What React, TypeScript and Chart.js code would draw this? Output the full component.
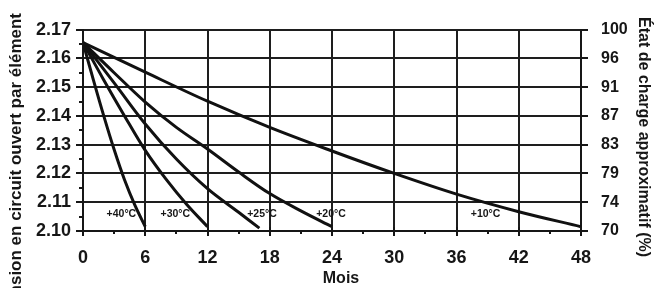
import React, { useEffect, useRef } from "react";
import { Chart, registerables } from "chart.js";

Chart.register(...registerables);

// Months (x) and open-circuit voltage per cell (y) for each storage temperature
const MONTHS_40 = [0, 1, 2, 3, 4, 5, 6];
const VOLTS_40 = [2.1655, 2.1525, 2.14, 2.1283, 2.1178, 2.109, 2.1015];

const MONTHS_30 = [0, 2, 4, 6, 8, 10, 12];
const VOLTS_30 = [2.1655, 2.1525, 2.14, 2.128, 2.118, 2.1092, 2.1015];

const MONTHS_25 = [0, 3, 6, 9, 12, 15, 17];
const VOLTS_25 = [2.1655, 2.1515, 2.1372, 2.125, 2.1147, 2.1065, 2.101];

const MONTHS_20 = [0, 3, 6, 9, 12, 15, 18, 21, 24];
const VOLTS_20 = [2.1655, 2.155, 2.1448, 2.136, 2.1285, 2.1205, 2.113, 2.107, 2.1015];

const MONTHS_10 = [0, 6, 12, 18, 24, 30, 36, 42, 48];
const VOLTS_10 = [2.1655, 2.1552, 2.1451, 2.136, 2.1278, 2.12, 2.1128, 2.1067, 2.1015];

const SERIES_LABELS = ["+40°C", "+30°C", "+25°C", "+20°C", "+10°C"];
const SERIES_LABEL_MONTHS = [3.7, 8.9, 17.25, 23.9, 38.8];
const SERIES_LABEL_VOLT = 2.1057;

const SOC_TICKS = ["70", "74", "79", "83", "87", "91", "96", "100"];

const X_TITLE = "Mois";
const Y_TITLE = "Tension en circuit ouvert par élément";
const Y2_TITLE = "État de charge approximatif (%)";

const FONT = "'Liberation Sans', Arial, Helvetica, sans-serif";
const INK = "#161616";

const toPoints = (xs: number[], ys: number[]) => xs.map((x, i) => ({ x, y: ys[i] }));

const decorPlugin = {
  id: "decor",
  afterDraw(chart: any) {
    const ctx = chart.ctx as CanvasRenderingContext2D;
    const xs = chart.scales.x;
    const ys = chart.scales.y;
    const area = chart.chartArea;
    ctx.save();
    ctx.strokeStyle = INK;
    ctx.lineWidth = 2;
    ctx.beginPath();
    // x ticks: major every 6, minor every 3
    for (let m = 0; m <= 48; m += 3) {
      const px = Math.round(xs.getPixelForValue(m));
      const major = m % 6 === 0;
      ctx.moveTo(px, area.bottom - (major ? 4 : 1));
      ctx.lineTo(px, area.bottom + (major ? 5 : 3));
    }
    // left y ticks: major every 0.01, minor every 0.005
    for (let k = 0; k <= 14; k++) {
      const v = 2.1 + k * 0.005;
      const py = Math.round(ys.getPixelForValue(v));
      const major = k % 2 === 0;
      ctx.moveTo(area.left - (major ? 7 : 4), py);
      ctx.lineTo(area.left, py);
      if (major) {
        ctx.moveTo(area.right, py);
        ctx.lineTo(area.right + 7, py);
      }
    }
    ctx.stroke();

    ctx.fillStyle = INK;
    // curve labels
    ctx.font = `bold 10.5px ${FONT}`;
    ctx.textAlign = "center";
    ctx.textBaseline = "middle";
    SERIES_LABELS.forEach((t, i) => {
      ctx.fillText(t, xs.getPixelForValue(SERIES_LABEL_MONTHS[i]), ys.getPixelForValue(SERIES_LABEL_VOLT));
    });

    // x title
    ctx.font = `bold 16px ${FONT}`;
    ctx.textAlign = "center";
    ctx.textBaseline = "alphabetic";
    ctx.fillText(X_TITLE, 341, 283);

    // left title (rotated, clipped at bottom like reference)
    ctx.save();
    ctx.font = `bold 17px ${FONT}`;
    ctx.translate(20.5, 13);
    ctx.rotate(-Math.PI / 2);
    ctx.textAlign = "right";
    ctx.textBaseline = "alphabetic";
    ctx.fillText(Y_TITLE, 0, 0);
    ctx.restore();

    // right title
    ctx.save();
    ctx.font = `bold 16px ${FONT}`;
    ctx.translate(638.5, 17);
    ctx.rotate(Math.PI / 2);
    ctx.textAlign = "left";
    ctx.textBaseline = "alphabetic";
    ctx.fillText(Y2_TITLE, 0, 0);
    ctx.restore();

    ctx.restore();
  },
};

export default function App() {
  const ref = useRef<HTMLCanvasElement | null>(null);

  useEffect(() => {
    if (!ref.current) return;
    const line = (xs: number[], ys: number[], label: string) => ({
      label,
      data: toPoints(xs, ys),
      borderColor: "#111",
      borderWidth: 3,
      pointRadius: 0,
      fill: false,
      tension: 0.35,
    });
    const chart = new Chart(ref.current, {
      type: "line",
      data: {
        datasets: [
          line(MONTHS_40, VOLTS_40, SERIES_LABELS[0]),
          line(MONTHS_30, VOLTS_30, SERIES_LABELS[1]),
          line(MONTHS_25, VOLTS_25, SERIES_LABELS[2]),
          line(MONTHS_20, VOLTS_20, SERIES_LABELS[3]),
          line(MONTHS_10, VOLTS_10, SERIES_LABELS[4]),
        ],
      },
      options: {
        animation: false,
        responsive: true,
        maintainAspectRatio: false,
        layout: { padding: { top: 25, left: 0, right: 0, bottom: 0 } },
        plugins: { legend: { display: false }, tooltip: { enabled: false } },
        scales: {
          x: {
            type: "linear",
            min: 0,
            max: 48,
            afterFit: (s: any) => { s.height = 57; },
            ticks: {
              stepSize: 6,
              color: INK,
              font: { family: FONT, size: 18, weight: "bold" },
              padding: 16,
              maxRotation: 0,
            },
            grid: { color: "#1e1e1e", lineWidth: 2, drawTicks: false },
            border: { color: INK, width: 2 },
          },
          y: {
            type: "linear",
            position: "left",
            min: 2.1,
            max: 2.17,
            afterFit: (s: any) => { s.width = 83; },
            ticks: {
              stepSize: 0.01,
              color: INK,
              font: { family: FONT, size: 18, weight: "bold" },
              padding: 12,
              callback: (v: any) => Number(v).toFixed(2),
            },
            grid: { color: "#1e1e1e", lineWidth: 2, drawTicks: false },
            border: { color: INK, width: 2 },
          },
          y2: {
            type: "linear",
            position: "right",
            min: 2.1,
            max: 2.17,
            afterFit: (s: any) => { s.width = 83; },
            ticks: {
              stepSize: 0.01,
              color: INK,
              font: { family: FONT, size: 16, weight: "bold" },
              padding: 20,
              callback: (_v: any, i: number) => SOC_TICKS[i],
            },
            grid: { display: false, drawTicks: false },
            border: { color: INK, width: 2 },
          },
        },
      },
      plugins: [decorPlugin],
    });
    return () => chart.destroy();
  }, []);

  return (
    <div style={{ position: "fixed", left: 0, top: 0, width: 664, height: 288, background: "#fff" }}>
      <canvas ref={ref} />
    </div>
  );
}
